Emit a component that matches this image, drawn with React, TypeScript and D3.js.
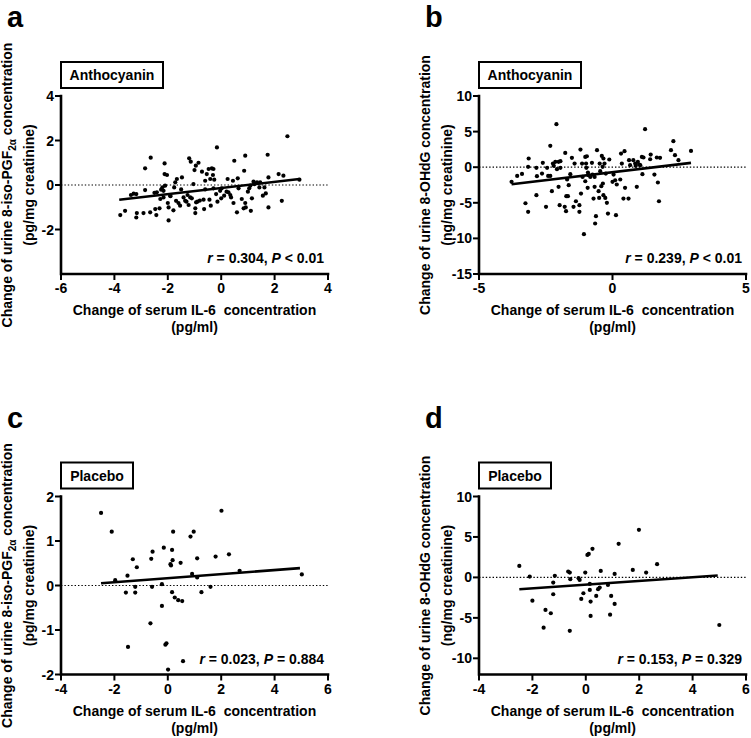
import React from "react";
import * as d3 from "d3";

// ---------- data ----------
const pointsA: [number, number][] = [
  [-3.78, -1.35], [-3.6, -1.16], [-3.18, -1.46], [-3.16, -1.26], [-2.91, -1.26], [-2.66, -1.23],
  [-2.47, -1.08], [-2.43, -1.35], [-2.31, -1.05], [-1.97, -1.59], [-1.97, -1.01], [-1.79, -1.14],
  [-3.38, -0.45], [-3.28, -0.39], [-3.18, -0.41], [-2.85, -0.23], [-2.85, 0.75], [-2.64, 1.23],
  [-2.12, 0.97], [-2.12, 0.49], [-2.03, 0.45], [-2.25, -0.21], [-2.16, -0.26], [-2.1, -0.03],
  [-2.41, -0.33], [-2.28, -0.63], [-2.16, -0.56], [-2.0, -0.81], [-1.91, -0.48], [-1.76, -0.11],
  [-1.72, 0.12], [-1.66, 0.27], [-1.69, -0.71], [-1.6, -0.81], [-1.54, -0.93], [-1.47, 0.34],
  [-1.41, -0.56], [-1.35, -0.71], [-1.26, -0.45], [-1.22, -0.9], [-1.2, 1.2], [-1.14, 1.05],
  [-1.16, -0.56], [-1.1, -0.6], [-1.04, 0.04], [-1.0, 0.67], [-0.95, 0.87], [-0.97, -1.26],
  [-0.97, -1.05], [-0.94, -0.78], [-0.89, -0.75], [-0.85, 1.0], [-0.72, 0.6], [-0.66, -0.66],
  [-0.64, -1.08], [-0.6, 0.19], [-0.54, 0.49], [-0.47, 0.72], [-0.41, 0.27], [-0.35, 0.75],
  [-0.31, 0.45], [-0.29, 0.72], [-0.26, 0.24], [-0.44, -0.66], [-0.39, -0.93], [-0.29, -0.15],
  [-0.19, -0.41], [-0.16, 1.69], [-0.14, -0.75], [-0.04, -0.26], [0.02, -0.15], [0.11, -0.48],
  [0.24, 0.27], [0.27, -0.33], [0.34, -0.45], [0.37, -0.56], [0.44, 0.19], [0.46, -0.81],
  [0.49, 1.09], [0.59, -1.23], [0.62, 0.3], [0.65, -0.15], [0.77, -0.63], [0.86, 0.64],
  [0.9, 1.32], [0.9, -0.81], [0.84, -1.05], [0.92, -1.01], [1.05, -0.15], [1.09, -0.03],
  [1.11, -1.16], [1.15, -0.6], [1.21, 0.15], [1.24, 0.04], [1.34, 0.12], [1.43, -0.11],
  [1.46, 0.12], [1.56, -0.48], [1.62, -0.11], [1.67, -0.38], [1.74, 1.36], [1.77, 0.34],
  [1.77, -1.01], [2.15, 0.49], [2.27, -0.71], [2.33, 0.42], [2.48, 2.19], [2.93, 0.24],
  [-1.3, -0.75], [-0.8, -0.7], [0.0, -0.6], [-1.9, -0.5], [-2.2, -0.1], [-0.6, -0.2],
  [0.2, -0.3], [1.0, -0.3], [-1.5, -0.2], [-2.5, -0.35],
];

const pointsB: [number, number][] = [
  [-3.78, -2.06], [-3.57, -1.22], [-3.39, -0.94], [-3.26, -5.06], [-3.16, -6.27], [-3.16, 0.05],
  [-3.14, 1.22], [-2.85, -3.93], [-2.85, -0.09], [-2.83, -1.26], [-2.64, -0.89], [-2.61, 0.61],
  [-2.49, -5.57], [-2.45, -0.09], [-2.41, -1.22], [-2.33, -1.22], [-2.33, 3.0], [-2.27, -3.37],
  [-2.23, 0.51], [-2.2, 0.19], [-2.14, 0.75], [-2.1, 6.04], [-2.08, -0.28], [-2.02, 0.75],
  [-2.02, -2.76], [-1.98, -5.34], [-1.95, 0.84], [-1.95, -0.09], [-1.79, -5.57], [-1.77, 2.01],
  [-1.74, -6.18], [-1.73, -4.07], [-1.67, -4.07], [-1.7, -1.73], [-1.64, -2.53], [-1.58, -0.98],
  [-1.52, 1.31], [-1.46, -5.57], [-1.42, 0.51], [-1.37, -4.78], [-1.24, -6.27], [-1.24, -5.34],
  [-1.2, 2.48], [-1.18, -3.7], [-1.14, 0.51], [-1.12, -1.36], [-1.07, -9.41], [-1.02, 1.45],
  [-1.02, -1.97], [-0.99, 0.51], [-0.98, -0.09], [-0.96, 1.54], [-0.93, -2.9], [-0.92, -0.75],
  [-0.9, -1.12], [-0.83, -1.36], [-0.77, 0.61], [-0.75, -1.03], [-0.71, -4.4], [-0.67, -2.76],
  [-0.67, -1.36], [-0.65, -7.91], [-0.62, -6.88], [-0.58, 2.39], [-0.52, -3.37], [-0.5, -4.31],
  [-0.48, 0.51], [-0.46, -0.56], [-0.42, -2.67], [-0.4, 1.59], [-0.37, 0.05], [-0.36, -2.29],
  [-0.34, 1.22], [-0.34, -3.93], [-0.3, 0.51], [-0.27, -4.31], [-0.25, -0.89], [-0.21, -5.01],
  [-0.17, -6.51], [-0.12, 1.08], [0.0, -2.06], [0.04, -1.03], [0.1, -1.83], [0.13, -6.74],
  [0.16, -2.43], [0.29, -1.73], [0.32, 1.92], [0.35, 0.51], [0.41, -4.4], [0.45, 2.25],
  [0.47, -2.9], [0.6, -4.4], [0.62, 0.98], [0.66, 0.28], [0.78, 0.98], [0.85, 0.51],
  [0.87, 0.19], [0.91, -2.76], [0.95, 0.75], [1.0, 0.37], [1.04, 0.28], [1.1, 1.45],
  [1.12, -0.98], [1.16, 1.36], [1.22, 5.34], [1.41, 1.12], [1.43, 1.78], [1.57, -1.03],
  [1.66, 1.36], [1.7, -2.15], [1.74, -4.78], [1.78, 1.31], [2.19, 2.39], [2.28, 3.65],
  [2.34, 1.69], [2.47, 0.98], [2.94, 2.29],
];

const pointsC: [number, number][] = [
  [-2.5, 1.63], [-2.1, 1.21], [-1.97, 0.12], [-1.57, -0.16], [-1.51, 0.22], [-1.49, -1.38],
  [-1.31, 0.59], [-1.22, -0.03], [-1.22, -0.16], [-1.16, 0.41], [-0.65, -0.85], [-0.62, 0.6],
  [-0.59, -0.03], [-0.57, 0.76], [-0.22, 0.03], [-0.22, -0.46], [-0.15, 0.85], [-0.09, -1.33],
  [-0.05, -1.3], [0.01, -1.89], [0.1, 0.48], [0.12, 0.45], [0.16, 0.8], [0.16, -0.15],
  [0.18, 0.57], [0.2, 1.21], [0.26, -0.27], [0.39, -0.33], [0.48, 0.51], [0.54, -0.35],
  [0.57, -1.7], [0.85, 1.1], [0.91, 0.26], [0.97, 1.21], [1.1, 0.61], [1.1, 0.18],
  [1.26, -0.15], [1.6, -0.03], [1.79, 0.65], [2.01, 1.68], [2.29, 0.7], [2.69, 0.33],
  [5.02, 0.25],
];

const pointsD: [number, number][] = [
  [-2.49, 1.42], [-2.1, 0.1], [-2.0, -2.87], [-1.58, -6.21], [-1.51, -4.02], [-1.31, -4.43],
  [-1.22, -0.64], [-1.22, -2.08], [-1.16, 0.19], [-0.66, 0.72], [-0.6, 0.6], [-0.6, -6.6],
  [-0.58, -0.22], [-0.27, -0.1], [-0.23, -0.31], [-0.17, -2.66], [-0.09, -1.96], [-0.02, 0.6],
  [0.06, 2.78], [0.11, 2.9], [0.15, -0.8], [0.15, -1.55], [0.18, -2.99], [0.18, -4.76],
  [0.25, 3.53], [0.39, -2.29], [0.46, -1.46], [0.52, -1.26], [0.56, 0.8], [0.83, -0.93],
  [0.91, -4.6], [0.95, -2.29], [1.08, 0.43], [1.08, -3.28], [1.23, 4.15], [1.76, 0.93],
  [1.99, 5.88], [2.26, 0.6], [2.67, 1.63], [5.0, -5.88],
];

// regression line end points (data units)
const fitA: [number, number][] = [[-3.82, -0.66], [2.93, 0.27]];
const fitB: [number, number][] = [[-3.78, -2.39], [2.94, 0.61]];
const fitC: [number, number][] = [[-2.5, 0.05], [4.95, 0.39]];
const fitD: [number, number][] = [[-2.49, -1.46], [4.94, 0.23]];

const xTicksA = [-6, -4, -2, 0, 2, 4];
const yTicksA = [-2, 0, 2, 4];
const xTicksB = [-5, 0, 5];
const yTicksB = [-15, -10, -5, 0, 5, 10];
const xTicksC = [-4, -2, 0, 2, 4, 6];
const yTicksC = [-2, -1, 0, 1, 2];
const xTicksD = [-4, -2, 0, 2, 4, 6];
const yTicksD = [-10, -5, 0, 5, 10];

const statsA = ["0.304", "<", "0.01"];
const statsB = ["0.239", "<", "0.01"];
const statsC = ["0.023", "=", "0.884"];
const statsD = ["0.153", "=", "0.329"];

const groups = ["Anthocyanin", "Anthocyanin", "Placebo", "Placebo"];
const letters = ["a", "b", "c", "d"];

const FONT = "'Liberation Sans', Arial, Helvetica, sans-serif";

type PanelProps = {
  letter: string;
  group: string;
  points: [number, number][];
  fit: [number, number][];
  xDomain: [number, number];
  yDomain: [number, number];
  xTicks: number[];
  yTicks: number[];
  stats: string[];
  left: number;
  top: number;
  yTitleKind: "iso" | "ohdg";
};

const PW = 267;
const PH = 178;

function Panel(p: PanelProps) {
  const x = d3.scaleLinear().domain(p.xDomain).range([p.left, p.left + PW]);
  const y = d3.scaleLinear().domain(p.yDomain).range([p.top + PH, p.top]);
  const line = d3
    .line<[number, number]>()
    .x((d) => x(d[0]))
    .y((d) => y(d[1]));
  const bottom = p.top + PH;
  const boxW = p.group === "Anthocyanin" ? 102 : 72;
  const cy = p.top + PH / 2;
  const t1x = p.left - 49;
  const t2x = p.left - 27;
  return (
    <g>
      <text x={p.left - 54} y={p.top - 69} fontSize={29} fontWeight="bold" fontFamily={FONT}>
        {p.letter}
      </text>
      <rect x={p.left} y={p.top - 34} width={boxW} height={26} fill="white" stroke="black" strokeWidth={2} />
      <text x={p.left + boxW / 2} y={p.top - 16} textAnchor="middle" fontSize={14} fontWeight="bold" fontFamily={FONT}>
        {p.group}
      </text>
      {/* zero dotted line */}
      <line x1={p.left} x2={p.left + PW} y1={y(0)} y2={y(0)} stroke="black" strokeWidth={1.2} strokeDasharray="1.4 2" />
      {p.points.map((d, i) => (
        <circle key={i} cx={x(d[0])} cy={y(d[1])} r={2.1} fill="black" />
      ))}
      <path d={line(p.fit) || ""} stroke="black" strokeWidth={2.6} fill="none" />
      {/* axes */}
      <path
        d={`M${p.left},${p.top}V${bottom}H${p.left + PW}`}
        stroke="black"
        strokeWidth={2.6}
        fill="none"
        strokeLinecap="square"
      />
      {p.yTicks.map((t) => (
        <g key={"y" + t}>
          <line x1={p.left - 6} x2={p.left} y1={y(t)} y2={y(t)} stroke="black" strokeWidth={2} />
          <text x={p.left - 7} y={y(t)} dy="0.36em" textAnchor="end" fontSize={14} fontWeight="bold" fontFamily={FONT}>
            {t}
          </text>
        </g>
      ))}
      {p.xTicks.map((t) => (
        <g key={"x" + t}>
          <line x1={x(t)} x2={x(t)} y1={bottom} y2={bottom + 6} stroke="black" strokeWidth={2} />
          <text x={x(t)} y={bottom + 19} textAnchor="middle" fontSize={14} fontWeight="bold" fontFamily={FONT}>
            {t}
          </text>
        </g>
      ))}
      {/* stats */}
      <text x={p.left + PW - 4} y={p.top + PH - 11} textAnchor="end" fontSize={14} fontWeight="bold" fontFamily={FONT}>
        <tspan fontStyle="italic">r</tspan>
        {` = ${p.stats[0]}, `}
        <tspan fontStyle="italic">P</tspan>
        {` ${p.stats[1]} ${p.stats[2]}`}
      </text>
      {/* x title */}
      <text x={p.left + PW / 2} y={bottom + 41} textAnchor="middle" fontSize={14} fontWeight="bold" fontFamily={FONT} style={{ whiteSpace: "pre" }}>
        {"Change of serum IL-6  concentration"}
      </text>
      <text x={p.left + PW / 2} y={bottom + 58} textAnchor="middle" fontSize={14} fontWeight="bold" fontFamily={FONT}>
        (pg/ml)
      </text>
      {/* y title */}
      <g transform={`translate(${t1x},${cy}) rotate(-90)`}>
        {p.yTitleKind === "iso" ? (
          <text x={0} y={0} textAnchor="middle" fontSize={14} fontWeight="bold" fontFamily={FONT}>
            Change of urine 8-iso-PGF
            <tspan fontSize={10} dy={4}>2α</tspan>
            <tspan dy={-4}> concentration</tspan>
          </text>
        ) : (
          <text x={0} y={0} textAnchor="middle" fontSize={14} fontWeight="bold" fontFamily={FONT}>
            Change of urine 8-OHdG concentration
          </text>
        )}
      </g>
      <g transform={`translate(${t2x},${cy}) rotate(-90)`}>
        <text x={0} y={0} textAnchor="middle" fontSize={14} fontWeight="bold" fontFamily={FONT}>
          {p.yTitleKind === "iso" ? "(pg/mg creatinine)" : "(ng/mg creatinine)"}
        </text>
      </g>
    </g>
  );
}

export default function App() {
  return (
    <svg
      width={751}
      height={738}
      style={{ position: "absolute", left: 0, top: 0, display: "block", background: "white" }}
    >
      <rect x={0} y={0} width={751} height={738} fill="white" />
      <Panel letter={letters[0]} group={groups[0]} points={pointsA} fit={fitA} xDomain={[-6, 4]} yDomain={[-4, 4]}
        xTicks={xTicksA} yTicks={yTicksA} stats={statsA} left={61} top={96} yTitleKind="iso" />
      <Panel letter={letters[1]} group={groups[1]} points={pointsB} fit={fitB} xDomain={[-5, 5]} yDomain={[-15, 10]}
        xTicks={xTicksB} yTicks={yTicksB} stats={statsB} left={479} top={96} yTitleKind="ohdg" />
      <Panel letter={letters[2]} group={groups[2]} points={pointsC} fit={fitC} xDomain={[-4, 6]} yDomain={[-2, 2]}
        xTicks={xTicksC} yTicks={yTicksC} stats={statsC} left={61} top={496.5} yTitleKind="iso" />
      <Panel letter={letters[3]} group={groups[3]} points={pointsD} fit={fitD} xDomain={[-4, 6]} yDomain={[-12, 10]}
        xTicks={xTicksD} yTicks={yTicksD} stats={statsD} left={479} top={496.5} yTitleKind="ohdg" />
    </svg>
  );
}
